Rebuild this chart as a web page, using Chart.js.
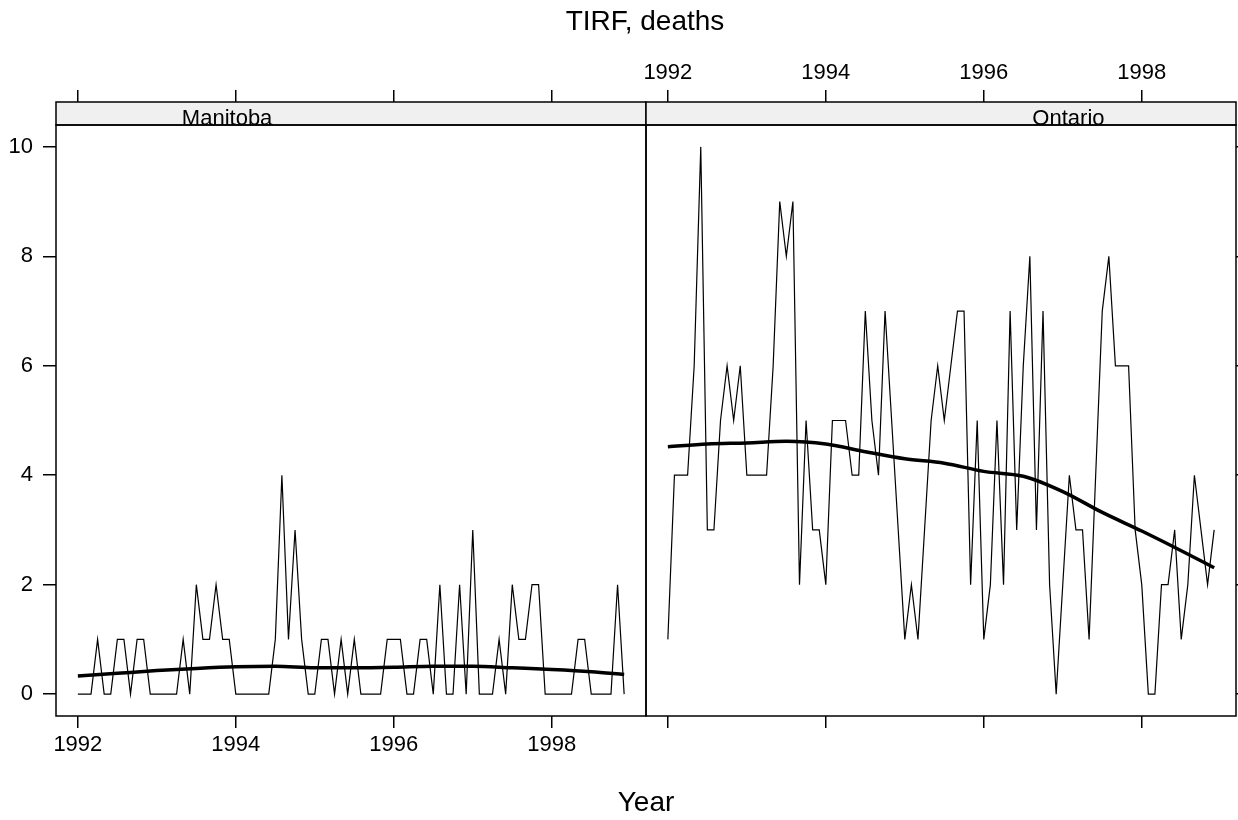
<!DOCTYPE html>
<html lang="en">
<head>
<meta charset="UTF-8" />
<title>TIRF, deaths</title>
<style>
  html, body { margin: 0; padding: 0; background: #fff; }
  #wrap {
    position: relative;
    width: 1238px;
    height: 820px;
    overflow: hidden;
    font-family: 'Liberation Sans', Arial, sans-serif;
    color: #000;
  }
  canvas { position: absolute; left: 0; top: 0; }
  .lbl {
    position: absolute;
    width: 400px;
    text-align: center;
    font-size: 28px;
    line-height: 28px;
    white-space: nowrap;
  }
  #title { left: 445px; top: 7px; }
  #xlab { left: 446px; top: 788px; }
</style>
</head>
<body>
<div id="wrap">
  <canvas id="manitoba" width="1238" height="820"></canvas>
  <canvas id="ontario" width="1238" height="820"></canvas>
  <div id="title" class="lbl">TIRF, deaths</div>
  <div id="xlab" class="lbl">Year</div>
</div>

<script src="https://cdn.jsdelivr.net/npm/chart.js"></script>
<script>
  // monthly deaths, Jan 1992 .. Dec 1998
  const startYear = 1992;
  const yearTicks = [1992, 1994, 1996, 1998];
  const deathTicks = [0, 2, 4, 6, 8, 10];

  const manitoba = [
    0, 0, 0, 1, 0, 0, 1, 1, 0, 1, 1, 0,
    0, 0, 0, 0, 1, 0, 2, 1, 1, 2, 1, 1,
    0, 0, 0, 0, 0, 0, 1, 4, 1, 3, 1, 0,
    0, 1, 1, 0, 1, 0, 1, 0, 0, 0, 0, 1,
    1, 1, 0, 0, 1, 1, 0, 2, 0, 0, 2, 0,
    3, 0, 0, 0, 1, 0, 2, 1, 1, 2, 2, 0,
    0, 0, 0, 0, 1, 1, 0, 0, 0, 0, 2, 0
  ];

  const ontario = [
    1, 4, 4, 4, 6, 10, 3, 3, 5, 6, 5, 6,
    4, 4, 4, 4, 6, 9, 8, 9, 2, 5, 3, 3,
    2, 5, 5, 5, 4, 4, 7, 5, 4, 7, 5, 3,
    1, 2, 1, 3, 5, 6, 5, 6, 7, 7, 2, 5,
    1, 2, 5, 2, 7, 3, 6, 8, 3, 7, 2, 0,
    2, 4, 3, 3, 1, 4, 7, 8, 6, 6, 6, 3,
    2, 0, 0, 2, 2, 3, 1, 2, 4, 3, 2, 3
  ];

  // loess smooth
  const smoothYears = [1992, 1992.5, 1993, 1993.5, 1994, 1994.5, 1995, 1995.5,
                       1996, 1996.5, 1997, 1997.5, 1998, 1998.5, 1998.917];
  const manitobaSmooth = [0.33, 0.38, 0.43, 0.47, 0.50, 0.51, 0.48, 0.48,
                          0.49, 0.51, 0.51, 0.48, 0.45, 0.41, 0.36];
  const ontarioSmooth = [4.52, 4.57, 4.59, 4.62, 4.57, 4.43, 4.30, 4.22,
                         4.07, 3.98, 3.70, 3.32, 2.98, 2.62, 2.31];

  const X_MIN = 1991.7233, X_MAX = 1999.1933;
  const Y_MIN = -0.4, Y_MAX = 10.4;
  const tickFont = { family: 'Liberation Sans', size: 22 };

  // strip + panel frame, lattice style
  const panelFrame = {
    id: 'panelFrame',
    afterDraw(chart, args, o) {
      const { ctx, chartArea: a } = chart;
      const w = a.right - a.left;
      ctx.save();
      ctx.fillStyle = '#f0f0f0';
      ctx.fillRect(a.left, a.top - 23, w, 23);
      ctx.strokeStyle = '#000';
      ctx.lineWidth = 1.5;
      ctx.strokeRect(a.left, a.top - 23, w, 23);
      ctx.strokeRect(a.left, a.top, w, a.bottom - a.top);
      ctx.fillStyle = '#000';
      ctx.font = '22px "Liberation Sans"';
      ctx.textAlign = 'center';
      ctx.textBaseline = 'alphabetic';
      ctx.fillText(o.label, a.left + o.at * w, a.top - 0.5);
      ctx.restore();
    }
  };

  function toPoints(xs, ys) {
    return ys.map((v, i) => ({ x: xs[i], y: v }));
  }

  function monthly(values) {
    return values.map((v, i) => ({ x: startYear + i / 12, y: v }));
  }

  function xAxis(position, showLabels, tickLength) {
    return {
      type: 'linear',
      position: position,
      min: X_MIN,
      max: X_MAX,
      afterBuildTicks: s => { s.ticks = yearTicks.map(v => ({ value: v })); },
      afterFit: s => { s.height = position === 'top' ? 125 : 104; },
      ticks: {
        display: showLabels,
        font: tickFont,
        color: '#000',
        padding: 4,
        maxRotation: 0,
        callback: v => String(v)
      },
      grid: { drawOnChartArea: false, drawTicks: true, tickLength: tickLength, color: '#000', lineWidth: 1.5 },
      border: { display: false }
    };
  }

  function makePanel(id, values, smooth, opts) {
    const scales = {
      x: xAxis('bottom', opts.bottomLabels, 12),
      xTop: xAxis('top', opts.topLabels, 35),
      y: {
        type: 'linear',
        position: opts.yPos,
        min: Y_MIN,
        max: Y_MAX,
        afterBuildTicks: s => { s.ticks = deathTicks.map(v => ({ value: v })); },
        afterFit: s => { s.width = opts.yWidth; },
        ticks: { display: opts.yLabels, font: tickFont, color: '#000', padding: 10 },
        grid: { drawOnChartArea: false, drawTicks: true, tickLength: 13, color: '#000', lineWidth: 1.5 },
        border: { display: false }
      }
    };

    return new Chart(document.getElementById(id), {
      type: 'line',
      data: {
        datasets: [
          {
            data: monthly(values),
            xAxisID: 'x',
            borderColor: '#000',
            borderWidth: 1.2,
            pointRadius: 0,
            tension: 0
          },
          {
            data: toPoints(smoothYears, smooth),
            xAxisID: 'x',
            borderColor: '#000',
            borderWidth: 3.5,
            pointRadius: 0,
            cubicInterpolationMode: 'monotone'
          }
        ]
      },
      options: {
        responsive: false,
        animation: false,
        events: [],
        layout: { padding: opts.padding },
        scales: scales,
        plugins: {
          legend: { display: false },
          tooltip: { enabled: false },
          panelFrame: { label: opts.label, at: opts.labelAt }
        }
      },
      plugins: [panelFrame]
    });
  }

  makePanel('manitoba', manitoba, manitobaSmooth, {
    label: 'Manitoba', labelAt: 0.29,
    bottomLabels: true, topLabels: false,
    yPos: 'left', yLabels: true, yWidth: 56,
    padding: { left: 0, right: 592, top: 0, bottom: 0 }
  });

  makePanel('ontario', ontario, ontarioSmooth, {
    label: 'Ontario', labelAt: 0.716,
    bottomLabels: false, topLabels: true,
    yPos: 'right', yLabels: false, yWidth: 2,
    padding: { left: 646, right: 0, top: 0, bottom: 0 }
  });
</script>
</body>
</html>
